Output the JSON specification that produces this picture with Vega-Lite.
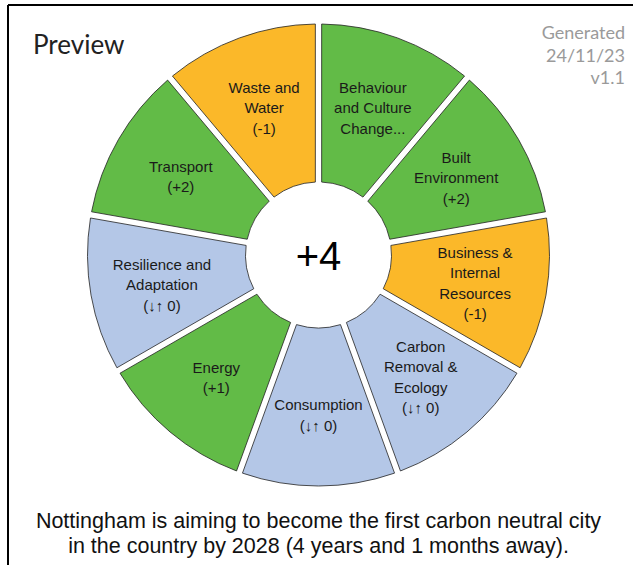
{
  "$schema": "https://vega.github.io/schema/vega-lite/v6.json",
  "width": 625,
  "height": 560,
  "autosize": {"type": "none"},
  "padding": {"left": 8, "top": 5, "right": 0, "bottom": 0},
  "background": "white",
  "view": {"stroke": null},
  "config": {"font": "Liberation Sans"},
  "data": {
    "values": [
      {"seq": 1, "name": "Behaviour and Culture Change", "value": 1, "status": "positive", "label": ["Behaviour", "and Culture", "Change..."]},
      {"seq": 2, "name": "Built Environment", "value": 1, "status": "positive", "label": ["Built", "Environment", "(+2)"]},
      {"seq": 3, "name": "Business & Internal Resources", "value": 1, "status": "negative", "label": ["Business &", "Internal", "Resources", "(-1)"]},
      {"seq": 4, "name": "Carbon Removal & Ecology", "value": 1, "status": "neutral", "label": ["Carbon", "Removal &", "Ecology", "(↓↑ 0)"]},
      {"seq": 5, "name": "Consumption", "value": 1, "status": "neutral", "label": ["Consumption", "(↓↑ 0)"]},
      {"seq": 6, "name": "Energy", "value": 1, "status": "positive", "label": ["Energy", "(+1)"]},
      {"seq": 7, "name": "Resilience and Adaptation", "value": 1, "status": "neutral", "label": ["Resilience and", "Adaptation", "(↓↑ 0)"]},
      {"seq": 8, "name": "Transport", "value": 1, "status": "positive", "label": ["Transport", "(+2)"]},
      {"seq": 9, "name": "Waste and Water", "value": 1, "status": "negative", "label": ["Waste and", "Water", "(-1)"]}
    ]
  },
  "layer": [
    {
      "data": {"values": [{"edge": "top"}]},
      "mark": {"type": "rule", "stroke": "black", "strokeWidth": 2},
      "encoding": {"x": {"value": 0}, "x2": {"value": "width"}, "y": {"value": 0}}
    },
    {
      "data": {"values": [{"edge": "left"}]},
      "mark": {"type": "rule", "stroke": "black", "strokeWidth": 2},
      "encoding": {"y": {"value": 0}, "y2": {"value": "height"}, "x": {"value": 0}}
    },
    {
      "mark": {"type": "arc", "x": {"expr": "width/2 - 2"}, "y": {"expr": "height/2 - 30"}, "radius": 231, "radius2": 73, "padAngle": 0.026, "stroke": "#222", "strokeWidth": 0.8},
      "encoding": {
        "theta": {"field": "value", "type": "quantitative", "stack": true},
        "order": {"field": "seq", "type": "quantitative"},
        "color": {
          "field": "status", "type": "nominal", "legend": null,
          "scale": {"domain": ["positive", "negative", "neutral"], "range": ["#62BB47", "#FBB829", "#B4C7E7"]}
        }
      }
    },
    {
      "transform": [{"filter": "length(datum.label) == 2"}],
      "mark": {"type": "text", "x": {"expr": "width/2 - 2"}, "y": {"expr": "height/2 - 30"}, "radius": 159, "fontSize": 15, "lineHeight": 20.5, "color": "#1a1a1a", "align": "center", "baseline": "middle", "dy": -9},
      "encoding": {
        "theta": {"field": "seq", "type": "quantitative", "scale": {"domain": [0.5, 9.5], "zero": false}},
        "text": {"field": "label"}
      }
    },
    {
      "transform": [{"filter": "length(datum.label) == 3"}],
      "mark": {"type": "text", "x": {"expr": "width/2 - 2"}, "y": {"expr": "height/2 - 30"}, "radius": 159, "fontSize": 15, "lineHeight": 20.5, "color": "#1a1a1a", "align": "center", "baseline": "middle", "dy": -18},
      "encoding": {
        "theta": {"field": "seq", "type": "quantitative", "scale": {"domain": [0.5, 9.5], "zero": false}},
        "text": {"field": "label"}
      }
    },
    {
      "transform": [{"filter": "length(datum.label) == 4"}],
      "mark": {"type": "text", "x": {"expr": "width/2 - 2"}, "y": {"expr": "height/2 - 30"}, "radius": 159, "fontSize": 15, "lineHeight": 20.5, "color": "#1a1a1a", "align": "center", "baseline": "middle", "dy": -30},
      "encoding": {
        "theta": {"field": "seq", "type": "quantitative", "scale": {"domain": [0.5, 9.5], "zero": false}},
        "text": {"field": "label"}
      }
    },
    {
      "data": {"values": [{"total": "+4"}]},
      "mark": {"type": "text", "x": {"expr": "width/2 - 2"}, "y": {"expr": "height/2 - 30"}, "fontSize": 40, "color": "#000", "align": "center", "baseline": "middle", "dy": 3},
      "encoding": {"text": {"field": "total"}}
    },
    {
      "data": {"values": [{"t": "Preview"}]},
      "mark": {"type": "text", "font": "Lato", "fontSize": 26, "color": "#222", "align": "left", "baseline": "middle", "x": 25, "y": 41},
      "encoding": {"text": {"field": "t"}}
    },
    {
      "data": {"values": [{"t": ["Generated", "24/11/23", "v1.1"]}]},
      "mark": {"type": "text", "font": "Lato", "fontSize": 18, "lineHeight": 22.5, "color": "#9a9a9a", "align": "right", "baseline": "middle", "x": 617, "y": 29},
      "encoding": {"text": {"field": "t"}}
    },
    {
      "data": {"values": [{"t": ["Nottingham is aiming to become the first carbon neutral city", "in the country by 2028  (4 years and 1 months away)."]}]},
      "mark": {"type": "text", "font": "Liberation Sans", "fontSize": 21.5, "lineHeight": 25, "color": "#111", "align": "center", "baseline": "middle", "x": {"expr": "width/2 - 2"}, "y": {"expr": "height - 43"}},
      "encoding": {"text": {"field": "t"}}
    }
  ],
  "resolve": {"scale": {"theta": "independent"}}
}
